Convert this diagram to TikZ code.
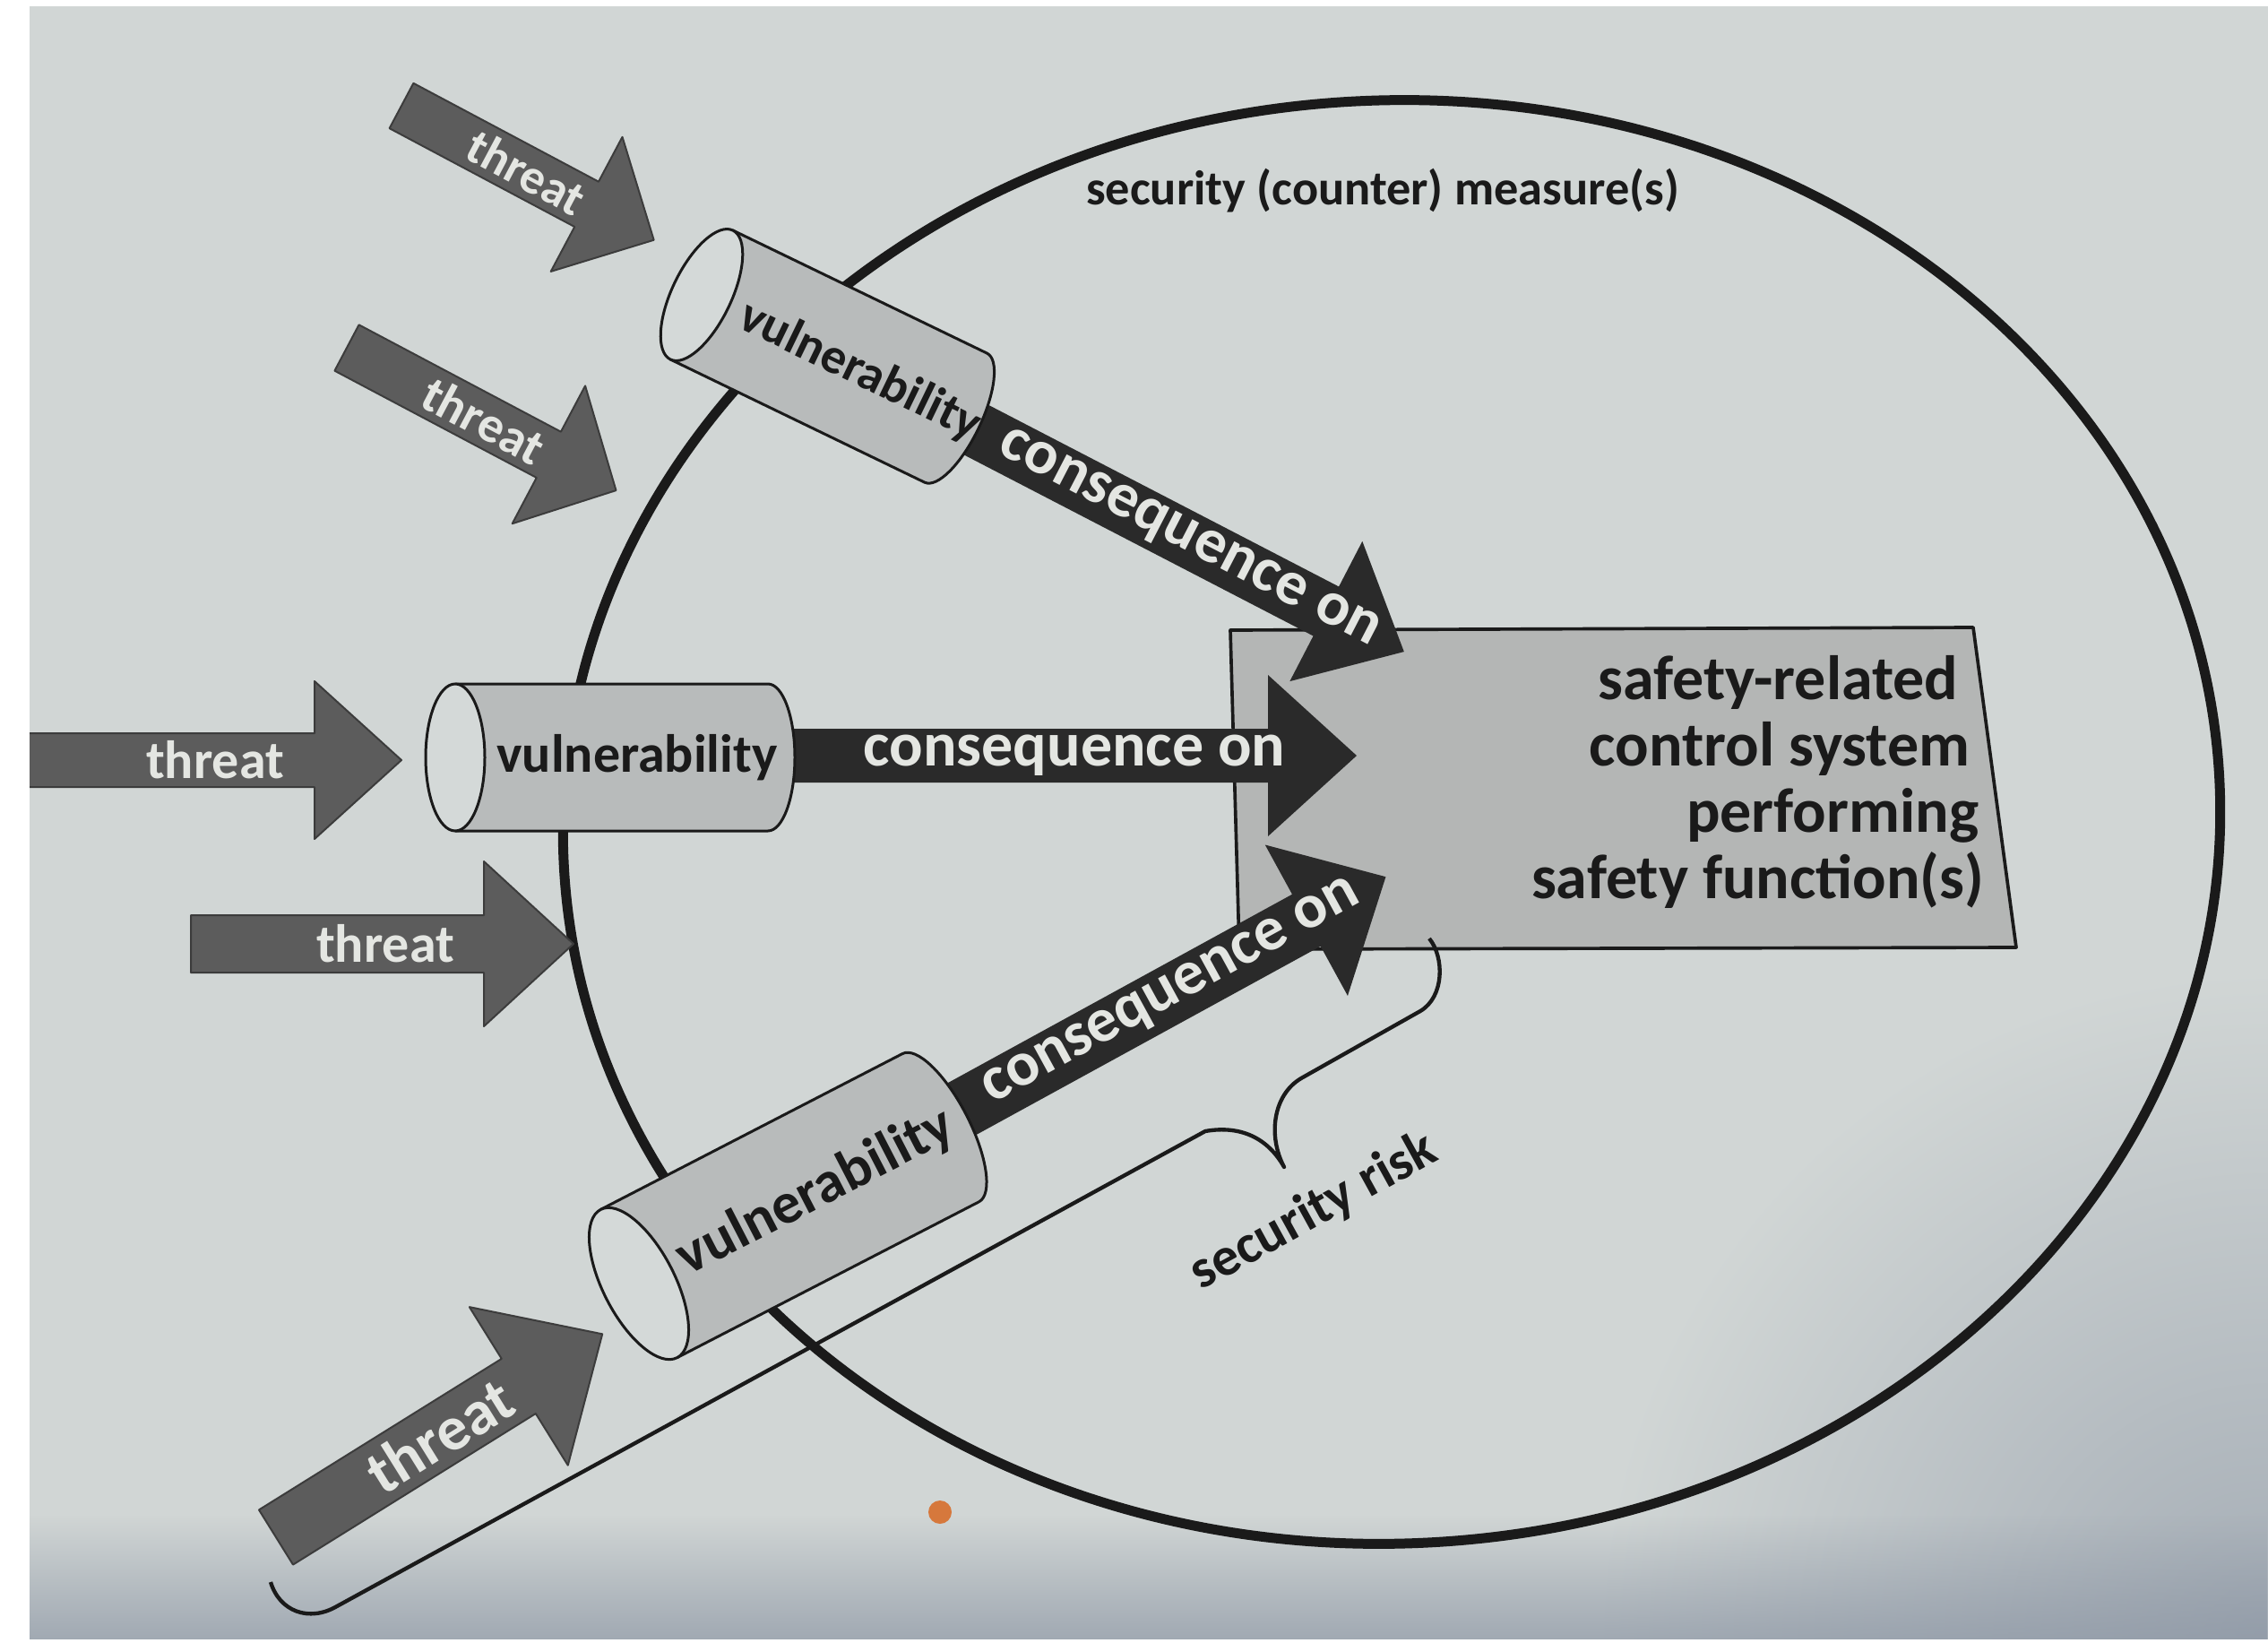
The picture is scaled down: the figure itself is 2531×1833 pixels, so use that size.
\documentclass[tikz,border=0pt]{standalone}
\usepackage{fontspec}
\setmainfont{Carlito}
\usetikzlibrary{fadings}
\definecolor{paper}{RGB}{209,214,213}
\definecolor{paperdark}{RGB}{140,150,164}
\definecolor{threatgrey}{RGB}{92,92,92}
\definecolor{consdark}{RGB}{42,42,42}
\definecolor{cylgrey}{RGB}{184,187,187}
\definecolor{capfill}{RGB}{212,217,216}
\definecolor{rectgrey}{RGB}{180,182,181}
\definecolor{inkblack}{RGB}{26,26,26}
\definecolor{lighttext}{RGB}{228,230,226}
\definecolor{stain}{RGB}{214,120,60}
\newcommand\setfs[1]{\fontsize{#1}{#1}\selectfont}
\newcommand\blockarrow[5]{\path[#1] (0,#3) -- ({#2-#4},#3) -- ({#2-#4},#5) -- (#2,0) -- ({#2-#4},-#5) -- ({#2-#4},-#3) -- (0,-#3) -- cycle;}
\newcommand\cylshape[4]{%
  \path[cylbody] (0,-#2) -- (#1,-#2) arc[start angle=-90,end angle=90,x radius=#4,y radius=#2] -- (0,#2) -- cycle;
  \path[cylcap] (0,0) ellipse[x radius=#3,y radius=#2];}
\begin{document}
\begin{tikzpicture}[x=0.3pt,y=-0.3pt,line join=round,
  threatarrow/.style={fill=threatgrey,draw=inkblack!85,line width=0.6pt},
  consarrow/.style={fill=consdark},
  cylbody/.style={fill=cylgrey,draw=inkblack,line width=0.9pt},
  cylcap/.style={fill=capfill,draw=inkblack,line width=0.9pt},
  threattext/.style={text=lighttext,inner sep=0pt},
  constext/.style={text=lighttext,inner sep=0pt,font=\bfseries\setfs{21}},
  vultext/.style={text=inkblack,inner sep=0pt},
  recttext/.style={text=inkblack,inner sep=0pt,font=\bfseries\setfs{21}}]
\useasboundingbox (0,0) rectangle (2531,1833);
\fill[white] (0,0) rectangle (2531,1833);
\fill[paper] (33,7) rectangle (2531,1829);
\begin{scope}
  \clip (33,7) rectangle (2531,1829);
  \shade[inner color=paper!35!paperdark,outer color=paper] (2531,1833) circle (750);
  \fill[paperdark,opacity=0.7,path fading=north] (0,1690) rectangle (2531,1829);
\end{scope}
% big boundary (security counter measures)
\draw[inkblack,line width=3.3pt,rotate around={3:(1553,917)}] (1553,917) ellipse[x radius=925,y radius=805];
% safety-related control system
\path[fill=rectgrey,draw=inkblack,line width=1.1pt] (1373,703) -- (2202,700) -- (2250,1057) -- (1383,1059) -- cycle;
% consequence arrows
\begin{scope}[shift={(1067,468)},rotate=-27.4]
  \blockarrow{consarrow}{563}{31}{98}{88}
  \node[constext,rotate=-27.4] (c1) at (292,0) {consequence on};
\end{scope}
\begin{scope}[shift={(857,843)}]
  \blockarrow{consarrow}{657}{30}{99}{90}
  \node[constext] (c2) at (342,0) {consequence on};
\end{scope}
\begin{scope}[shift={(1050,1250)},rotate=28.7]
  \blockarrow{consarrow}{566}{33}{101}{96}
  \node[constext,rotate=28.7] (c3) at (295,0) {consequence on};
\end{scope}
% vulnerabilities
\begin{scope}[shift={(783,329)},rotate=-25.8]
  \cylshape{315}{80}{33}{28}
  \node[vultext,rotate=-25.8,font=\bfseries\setfs{16.8}] (v1) at (196,0) {vulnerability};
\end{scope}
\begin{scope}[shift={(508,845)}]
  \cylshape{349}{82}{33}{30}
  \node[vultext,font=\bfseries\setfs{18}] (v2) at (203,0) {vulnerability};
\end{scope}
\begin{scope}[shift={(713,1432)},rotate=27.3]
  \cylshape{379}{93}{40}{32}
  \node[vultext,rotate=27.3,font=\bfseries\setfs{19.5}] (v3) at (222,0) {vulnerability};
\end{scope}
% threats
\begin{scope}[shift={(448,118)},rotate=-28]
  \blockarrow{threatarrow}{319}{28.5}{85}{85}
  \node[threattext,rotate=-28,font=\bfseries\setfs{16.5}] (t1) at (158,0) {threat};
\end{scope}
\begin{scope}[shift={(387,388)},rotate=-27.9]
  \blockarrow{threatarrow}{340}{29}{85}{87}
  \node[threattext,rotate=-27.9,font=\bfseries\setfs{17}] (t2) at (173,0) {threat};
\end{scope}
\begin{scope}[shift={(0,848)}]
  \blockarrow{threatarrow}{448}{30}{97}{88}
  \node[threattext,font=\bfseries\setfs{18}] (t3) at (240,0) {threat};
\end{scope}
\begin{scope}[shift={(213,1053)}]
  \blockarrow{threatarrow}{427}{32}{100}{92}
  \node[threattext,font=\bfseries\setfs{18}] (t4) at (217,0) {threat};
\end{scope}
\begin{scope}[shift={(308,1715)},rotate=31.9]
  \blockarrow{threatarrow}{429}{36}{110}{104}
  \node[threattext,rotate=31.9,font=\bfseries\setfs{21}] (t5) at (215,0) {threat};
\end{scope}
% security risk brace
\draw[inkblack,line width=1.3pt] (1595,1047) .. controls (1612,1068) and (1612,1112) .. (1585,1128) -- (1452,1203) .. controls (1420,1222) and (1415,1268) .. (1433,1302) .. controls (1415,1270) and (1385,1255) .. (1345,1262) -- (376,1792) .. controls (345,1810) and (312,1798) .. (302,1765);
% texts
\node[recttext,anchor=base east] (s1) at (2186,780) {safety-related};
\node[recttext,anchor=base east] (s2) at (2199,854) {control system};
\node[recttext,anchor=base east] (s3) at (2209,928) {performing};
\node[recttext,anchor=base east] (s4) at (2215,1002) {safety function(s)};
\node[text=inkblack,font=\bfseries\setfs{16.3}] (sm) at (1543,213) {security (counter) measure(s)};
\node[text=inkblack,font=\bfseries\setfs{18.3},rotate=28.8] (sr) at (1466,1352) {security risk};
\fill[stain] (1049,1687) circle (13);
% margins
\fill[white] (0,0) rectangle (33,1833);
\fill[white] (0,1829) rectangle (2531,1833);
\fill[white] (0,0) rectangle (2531,7);
\end{tikzpicture}
\end{document}
